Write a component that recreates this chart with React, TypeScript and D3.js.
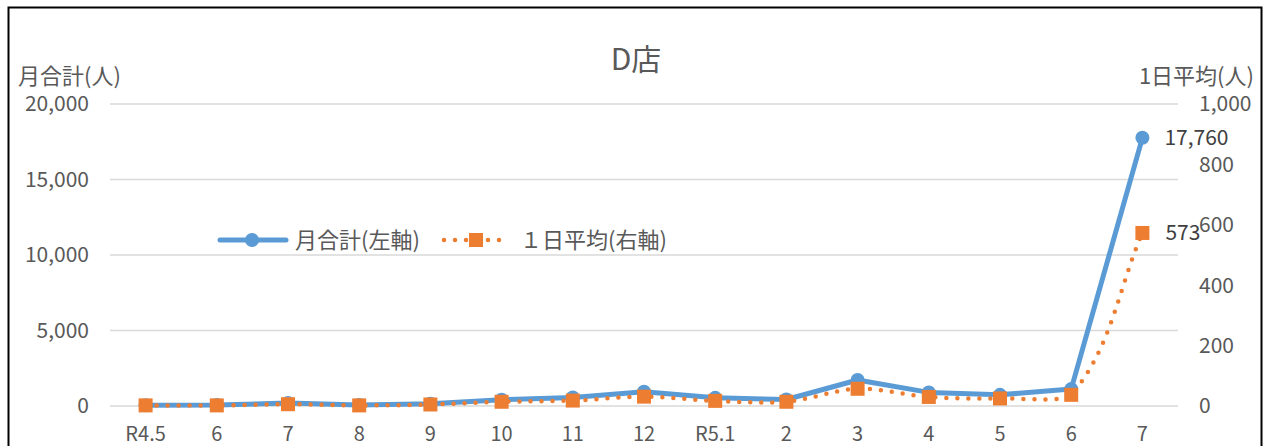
import React from "react";
import * as d3 from "d3";

const categories = ["R4.5", "6", "7", "8", "9", "10", "11", "12", "R5.1", "2", "3", "4", "5", "6", "7"];
const monthlyTotal = [50, 60, 200, 60, 150, 420, 560, 950, 540, 430, 1720, 900, 740, 1120, 17760];
const dailyAverage = [2, 2, 6, 2, 5, 14, 18, 31, 17, 14, 57, 30, 25, 37, 573];
const leftTicks = [0, 5000, 10000, 15000, 20000];
const rightTicks = [0, 200, 400, 600, 800, 1000];

const W = 1267;
const H = 446;
const plotLeft = 110;
const plotRight = 1178;
const plotTop = 104;
const plotBottom = 406;
const BLUE = "#5B9BD5";
const ORANGE = "#ED7D31";
const TEXT = "#595959";
const FONT = "'Noto Sans CJK JP', 'Noto Sans', sans-serif";

// Excel-like smoothed line through points (Bezier with length-weighted handles)
function smoothPath(pts: [number, number][]): string {
  const p = d3.path();
  const n = pts.length;
  const dist = (a: [number, number], b: [number, number]) => Math.hypot(b[0] - a[0], b[1] - a[1]);
  const f = 1 / 6;
  p.moveTo(pts[0][0], pts[0][1]);
  for (let i = 0; i < n - 1; i++) {
    const p0 = pts[Math.max(0, i - 1)];
    const p1 = pts[i];
    const p2 = pts[i + 1];
    const p3 = pts[Math.min(n - 1, i + 2)];
    const d01 = dist(p0, p1) ** 2;
    const d12 = dist(p1, p2) ** 2;
    const d23 = dist(p2, p3) ** 2;
    const k1 = d01 + d12 > 0 ? (2 * d12) / (d01 + d12) : 1;
    const k2 = d12 + d23 > 0 ? (2 * d12) / (d12 + d23) : 1;
    const c1x = p1[0] + (p2[0] - p0[0]) * f * k1;
    const c1y = p1[1] + (p2[1] - p0[1]) * f * k1;
    const c2x = p2[0] - (p3[0] - p1[0]) * f * k2;
    const c2y = p2[1] - (p3[1] - p1[1]) * f * k2;
    p.bezierCurveTo(c1x, c1y, c2x, c2y, p2[0], p2[1]);
  }
  return p.toString();
}

export default function App() {
  const x = d3.scaleBand<string>().domain(categories.map((c, i) => i + "")).range([plotLeft, plotRight]);
  const cx = (i: number) => (x(i + "") as number) + x.bandwidth() / 2;
  const yL = d3.scaleLinear().domain([0, 20000]).range([plotBottom, plotTop]);
  const yR = d3.scaleLinear().domain([0, 1000]).range([plotBottom, plotTop]);
  const lineL = d3.line<number>().x((_, i) => cx(i)).y((d) => yL(d));
  const avgPts = dailyAverage.map((v, i) => [cx(i), yR(v)] as [number, number]);
  const fmt = d3.format(",");
  const last = categories.length - 1;

  return (
    <svg width={W} height={H} style={{ position: "absolute", left: 0, top: 0, background: "#fff" }} fontFamily={FONT}>
      <rect x={8.5} y={7.5} width={1253} height={460} fill="#fff" stroke="#000" strokeWidth={2} />
      <text x={636} y={70} textAnchor="middle" fontSize={30} fill={TEXT}>D店</text>
      <text x={18} y={84} fontSize={22} fill={TEXT}>月合計(人)</text>
      <text x={1254} y={84} textAnchor="end" fontSize={22} fill={TEXT}>1日平均(人)</text>
      {leftTicks.map((t) => (
        <g key={"l" + t}>
          <line x1={plotLeft} x2={plotRight} y1={yL(t)} y2={yL(t)} stroke="#D9D9D9" strokeWidth={1.5} />
          <text x={89} y={yL(t)} dy="0.35em" textAnchor="end" fontSize={21} fill={TEXT}>{fmt(t)}</text>
        </g>
      ))}
      {rightTicks.map((t) => (
        <text key={"r" + t} x={1199} y={yR(t)} dy="0.35em" fontSize={21} fill={TEXT}>{fmt(t)}</text>
      ))}
      {categories.map((c, i) => (
        <text key={"c" + i} x={cx(i)} y={441} textAnchor="middle" fontSize={20} fill={TEXT}>{c}</text>
      ))}
      <path d={lineL(monthlyTotal) || ""} fill="none" stroke={BLUE} strokeWidth={5} strokeLinejoin="round" />
      {monthlyTotal.map((v, i) => (
        <circle key={"m" + i} cx={cx(i)} cy={yL(v)} r={7} fill={BLUE} />
      ))}
      <path d={smoothPath(avgPts)} fill="none" stroke={ORANGE} strokeWidth={4.5} strokeLinecap="round" strokeDasharray="0 11" />
      {dailyAverage.map((v, i) => (
        <rect key={"a" + i} x={cx(i) - 7} y={yR(v) - 7} width={14} height={14} fill={ORANGE} />
      ))}
      <text x={cx(last) + 22} y={yL(monthlyTotal[last])} dy="0.35em" fontSize={21} fill="#404040">{fmt(monthlyTotal[last])}</text>
      <text x={cx(last) + 23} y={yR(dailyAverage[last])} dy="0.35em" fontSize={21} fill="#404040">{fmt(dailyAverage[last])}</text>
      {/* legend */}
      <line x1={220} x2={286} y1={240} y2={240} stroke={BLUE} strokeWidth={5} strokeLinecap="round" />
      <circle cx={252} cy={240} r={7} fill={BLUE} />
      <text x={295} y={240} dy="0.35em" fontSize={22} fill={TEXT}>月合計(左軸)</text>
      <line x1={444} x2={505} y1={240} y2={240} stroke={ORANGE} strokeWidth={4.5} strokeLinecap="round" strokeDasharray="0 11" />
      <rect x={469} y={233} width={14} height={14} fill={ORANGE} />
      <text x={520} y={240} dy="0.35em" fontSize={22} fill={TEXT}>１日平均(右軸)</text>
    </svg>
  );
}
